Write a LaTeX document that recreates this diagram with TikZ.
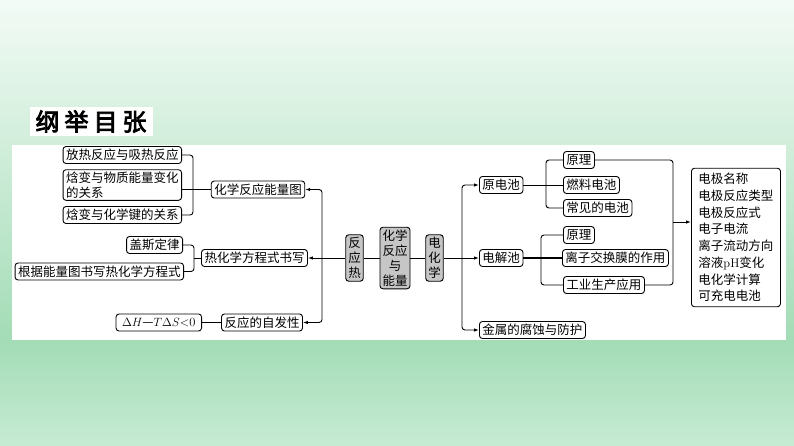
\documentclass[tikz,border=0pt]{standalone}
\usepackage{fontspec}
\newfontfamily\cjk{Noto Sans CJK SC}
\newfontfamily\titlefont[FakeBold=3.5]{Noto Sans CJK SC}
\usetikzlibrary{arrows.meta}
\definecolor{bgtop}{HTML}{F3FBF6}
\definecolor{bgmid}{HTML}{A3DCB6}
\definecolor{bgbot}{HTML}{C6EBD3}
\definecolor{boxgray}{HTML}{C6C6C6}
\tikzset{
  box/.style={draw,rounded corners=3pt,line width=0.9pt,fill=white,inner xsep=3pt,inner ysep=2pt,
    minimum height=17pt,font=\cjk\fontsize{12.5pt}{15pt}\selectfont},
  gbox/.style={box,fill=boxgray,align=center,inner xsep=2.5pt,inner ysep=2.5pt},
  link/.style={line width=0.9pt,rounded corners=3pt},
  arr/.style={link,-{Latex[length=5pt,width=3.5pt]}}
}
\begin{document}
\begin{tikzpicture}[x=1pt,y=-1pt]
                \useasboundingbox (0,0) rectangle (794,445);
                %% background and panel
                \shade[top color=bgtop,bottom color=bgmid] (0,0) rectangle (794,340);
                \shade[top color=bgmid,bottom color=bgbot] (0,340) rectangle (794,445);
                \fill[white] (12,145) rectangle (786,340);
                \node[fill=white,inner xsep=6pt,inner ysep=3pt,font=\titlefont\fontsize{24pt}{24pt}\selectfont] (T) at (91,121.5) {纲\hspace{5pt}举\hspace{5pt}目\hspace{5pt}张};
                %% centre
                \node[gbox] (M) at (395,258) {化学\\反应\\与\\能量};
                \node[gbox] (FYR) at (354.5,258) {反\\应\\热};
                \node[gbox] (DHX) at (434.5,258) {电\\化\\学};
                %% left branch
                \node[box] (NLT) at (258,189.5) {化学反应能量图};
                \node[box] (RFC) at (254.5,258) {热化学方程式书写};
                \node[box] (ZFX) at (262,322.5) {反应的自发性};
                \node[box,anchor=east] (FR1) at (182,155) {放热反应与吸热反应};
                \node[box,anchor=east,align=left] (FR2) at (182,185) {焓变与物质能量变化\\的关系};
                \node[box,anchor=east] (FR3) at (182,215) {焓变与化学键的关系};
                \node[box,anchor=east] (GS) at (183,245) {盖斯定律};
                \node[box,anchor=east] (GJ) at (184,271.5) {根据能量图书写热化学方程式};
                \node[box,anchor=east,inner xsep=6pt] (DH) at (202,322.5) {$\Delta H$—$T\Delta S$\textrm{<0}};
                \coordinate (K1) at (193,189.5);
                \coordinate (K2) at (194,258);
                \coordinate (T1) at (322,258);
                \draw[link] (FR1.east) -| (K1) |- (FR3.east);
                \draw[link] (FR2.east |- K1) -- (NLT.west);
                \draw[link] (GS.east) -| (K2) |- (GJ.east);
                \draw[link] (K2) -- (RFC.west);
                \draw[link] (DH) -- (ZFX);
                \draw[arr] (T1) |- (NLT.east);
                \draw[arr] (T1) |- (ZFX.east);
                \draw[arr] (T1) -- (RFC.east);
                \draw[link] (T1) -- (FYR.west);
                \draw[link] (FYR.east) -- (M.west);
                \draw[link] (M.east) -- (DHX.west);
                %% right branch
                \node[box,anchor=west] (YDC) at (479,185) {原电池};
                \node[box,anchor=west] (DJC) at (479,258) {电解池};
                \node[box,anchor=west] (FS) at (479,330) {金属的腐蚀与防护};
                \node[box,anchor=west] (YL1) at (563,160) {原理};
                \node[box,anchor=west] (RL) at (563,185) {燃料电池};
                \node[box,anchor=west] (CJ) at (563,208) {常见的电池};
                \node[box,anchor=west] (YL2) at (563,235) {原理};
                \node[box,anchor=west] (LZ) at (562,258) {离子交换膜的作用};
                \node[box,anchor=west] (GY) at (563,285) {工业生产应用};
                \node[box,anchor=west,align=left,inner xsep=7pt,inner ysep=5pt,
                  font=\cjk\fontsize{12.5pt}{16.7pt}\selectfont] (LST) at (691,237.5)
                  {电极名称\\电极反应类型\\电极反应式\\电子电流\\离子流动方向\\溶液\textrm{pH}变化\\电化学计算\\可充电电池};
                \coordinate (T2) at (462,258);
                \coordinate (K3) at (546,185);
                \coordinate (K4) at (541,258);
                \coordinate (K5) at (673,222);
                \draw[link] (DHX.east) -- (T2);
                \draw[arr] (T2) |- (YDC.west);
                \draw[arr] (T2) |- (FS.west);
                \draw[arr] (T2) -- (DJC.west);
                \draw[link] (YL1.west) -| (K3) |- (CJ.west);
                \draw[link] (YDC.east) -- (RL.west);
                \draw[link] (YL2.west) -| (K4) |- (GY.west);
                \draw[link,line width=1.3pt] (DJC.east) -- (LZ.west);
                \draw[link] (YL1.east) -| (K5) |- (GY.east);
                \draw[arr] (K5) -- (K5 -| LST.west);
            \end{tikzpicture}
\end{document}
